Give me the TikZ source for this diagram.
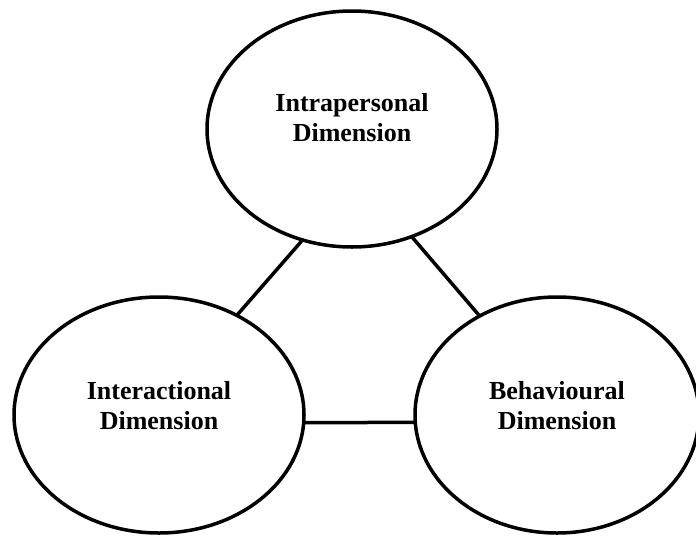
\documentclass[tikz,border=0pt]{standalone}
\usepackage{fontspec}
\setmainfont{Liberation Serif}
\usetikzlibrary{shapes.geometric}
\begin{document}
\begin{tikzpicture}[x=1pt,y=-1pt,
  dimbox/.style={ellipse,draw=black,line width=3.5pt,inner sep=0pt,outer sep=0pt,
    minimum width=290pt,minimum height=236pt},
  dimtext/.style={align=center,font=\fontsize{26}{30}\selectfont\bfseries,inner sep=0pt},
  link/.style={draw=black,line width=3.5pt}]
  \useasboundingbox (0,0) rectangle (696,536);
  % the three dimensions
  \node[dimbox] (intra) at (352,129) {};
  \node[dimbox] (inter) at (159,415) {};
  \node[dimbox,minimum width=284pt] (behav) at (557,415) {};
  % labels sit a little above each centre
  \node[dimtext] (intraT) at (352,118) {Intrapersonal\\Dimension};
  \node[dimtext] (interT) at (159,406) {Interactional\\Dimension};
  \node[dimtext] (behavT) at (557,406) {Behavioural\\Dimension};
  % connectors
  \draw[link] (intra.246) -- (inter.52);
  \draw[link] (intra.299) -- (behav.128);
  \draw[link] (inter.-3) -- (behav.183);
\end{tikzpicture}
\end{document}
